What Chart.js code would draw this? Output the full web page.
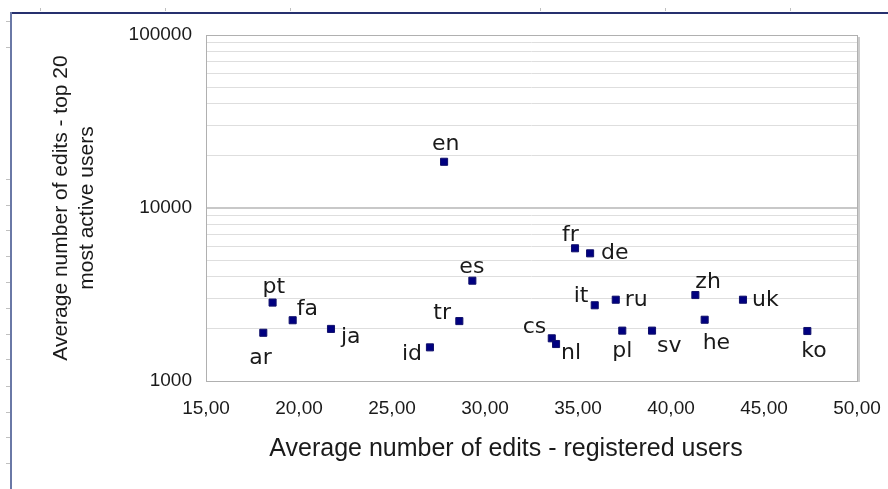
<!DOCTYPE html>
<html>
<head>
<meta charset="utf-8">
<script src="https://cdn.jsdelivr.net/npm/chart.js@4.4.1/dist/chart.umd.min.js"></script>
<style>
  body { margin: 0; background: #fff; }
  #wrap { width: 888px; height: 489px; position: relative; }
</style>
</head>
<body>
<div id="wrap"><canvas id="editsChart"></canvas></div>
<script>
// data
const langs = ['ar', 'pt', 'fa', 'ja', 'id', 'en', 'tr', 'es', 'cs', 'nl',
               'fr', 'de', 'it', 'ru', 'pl', 'sv', 'zh', 'he', 'uk', 'ko'];
const regEdits = [18.08, 18.58, 19.66, 21.72, 27.04, 27.80, 28.62, 29.32, 33.59, 33.82,
                  34.84, 35.65, 35.90, 37.03, 37.38, 38.98, 41.31, 41.81, 43.87, 47.33];
const topEdits = [1900, 2840, 2245, 2000, 1565, 18500, 2220, 3800, 1765, 1636,
                  5850, 5470, 2740, 2950, 1955, 1955, 3140, 2260, 2950, 1945];
const yTicks = [1000, 2000, 3000, 4000, 5000, 6000, 7000, 8000, 9000,
                10000, 20000, 30000, 40000, 50000, 60000, 70000, 80000, 90000, 100000];
const yLabels = [1000, 10000, 100000];

// where each label sits relative to its marker (baseline-left offset)
const labelOffset = {
  ar: [-14, 31], pt: [-10, -10], fa: [4, -5], ja: [10, 14], id: [-28, 13],
  en: [-12, -12], tr: [-26, -2], es: [-13, -8], cs: [-29, -5], nl: [5, 15],
  fr: [-13, -7], de: [11, 6], it: [-21, -3], ru: [9, 6], pl: [-10, 26],
  sv: [5, 21], zh: [0, -7], he: [-2, 29], uk: [9, 6], ko: [-6, 26]
};

const points = regEdits.map((x, i) => ({ x: x, y: topEdits[i] }));

// page frame, ruler ticks, plot border, labels and x title
const decor = {
  id: 'decor',
  beforeDraw(chart) {
    const c = chart.ctx;
    c.save();
    c.fillStyle = '#fff';
    c.fillRect(0, 0, chart.width, chart.height);
    c.strokeStyle = '#c0c0c0';
    c.lineWidth = 1;
    [40, 165, 290, 540, 665, 790].forEach(x => {
      c.beginPath(); c.moveTo(x + 0.5, 8); c.lineTo(x + 0.5, 11); c.stroke();
    });
    [21, 47, 179, 205, 230, 256, 282, 308, 334, 359, 386, 412, 437, 463].forEach(y => {
      c.beginPath(); c.moveTo(6, y + 0.5); c.lineTo(10, y + 0.5); c.stroke();
    });
    c.strokeStyle = '#26306e';
    c.lineWidth = 2;
    c.beginPath(); c.moveTo(11, 13); c.lineTo(888, 13); c.stroke();
    c.strokeStyle = '#6a78a6';
    c.beginPath(); c.moveTo(11, 12); c.lineTo(11, 489); c.stroke();
    c.restore();
  },
  afterDatasetsDraw(chart) {
    const c = chart.ctx;
    const a = chart.chartArea;
    c.save();
    c.strokeStyle = '#b0b0b0';
    c.lineWidth = 1;
    c.strokeRect(a.left + 0.5, a.top + 0.5, a.right - a.left, a.bottom - a.top);
    c.strokeStyle = '#cccccc';
    c.lineWidth = 2;
    c.beginPath(); c.moveTo(a.right + 2, a.top + 2); c.lineTo(a.right + 2, a.bottom + 1); c.stroke();

    const meta = chart.getDatasetMeta(0);
    c.fillStyle = '#1a1a1a';
    c.font = '22px "DejaVu Sans"';
    c.textAlign = 'left';
    c.textBaseline = 'alphabetic';
    meta.data.forEach((pt, i) => {
      const off = labelOffset[langs[i]];
      c.fillText(langs[i], pt.x + off[0], pt.y + off[1]);
    });

    c.font = '25px "Liberation Sans"';
    c.textAlign = 'center';
    c.textBaseline = 'middle';
    c.fillText('Average number of edits - registered users', 506, 449);
    c.restore();
  }
};

const ctx = document.getElementById('editsChart').getContext('2d');
const editsChart = new Chart(ctx, {
  type: 'scatter',
  data: {
    datasets: [{
      label: 'Wikipedias',
      data: points,
      pointStyle: 'rect',
      pointRadius: 5,
      pointHoverRadius: 5,
      backgroundColor: '#000080',
      borderColor: '#10106a',
      borderWidth: 1
    }]
  },
  options: {
    responsive: true,
    maintainAspectRatio: false,
    animation: false,
    events: [],
    layout: { padding: { top: 35, right: 31, left: 0, bottom: 0 } },
    plugins: { legend: { display: false }, tooltip: { enabled: false } },
    scales: {
      x: {
        type: 'linear',
        min: 15,
        max: 50,
        afterFit: s => { s.height = 108; s.paddingLeft = 0; s.paddingRight = 0; },
        grid: { display: false },
        border: { display: false },
        ticks: {
          stepSize: 5,
          padding: 8,
          color: '#1a1a1a',
          font: { family: 'Liberation Sans', size: 19 },
          callback: v => v.toFixed(2).replace('.', ',')
        }
      },
      y: {
        type: 'logarithmic',
        min: 1000,
        max: 100000,
        afterFit: s => { s.width = 206; s.paddingTop = 0; s.paddingBottom = 0; },
        afterBuildTicks: s => { s.ticks = yTicks.map(v => ({ value: v })); },
        border: { display: false },
        grid: {
          drawTicks: false,
          color: c => (c.tick && c.tick.value === 10000) ? '#c8c8c8' : '#dedede',
          lineWidth: c => (c.tick && c.tick.value === 10000) ? 2 : 1
        },
        ticks: {
          autoSkip: false,
          padding: 14,
          color: '#1a1a1a',
          font: { family: 'Liberation Sans', size: 19 },
          callback: v => yLabels.includes(v) ? String(v) : ''
        },
        title: {
          display: true,
          text: ['Average number of edits - top 20', 'most active users'],
          color: '#1a1a1a',
          font: { family: 'Liberation Sans', size: 21 },
          padding: { top: 49, bottom: 0 }
        }
      }
    }
  },
  plugins: [decor]
});
</script>
</body>
</html>
